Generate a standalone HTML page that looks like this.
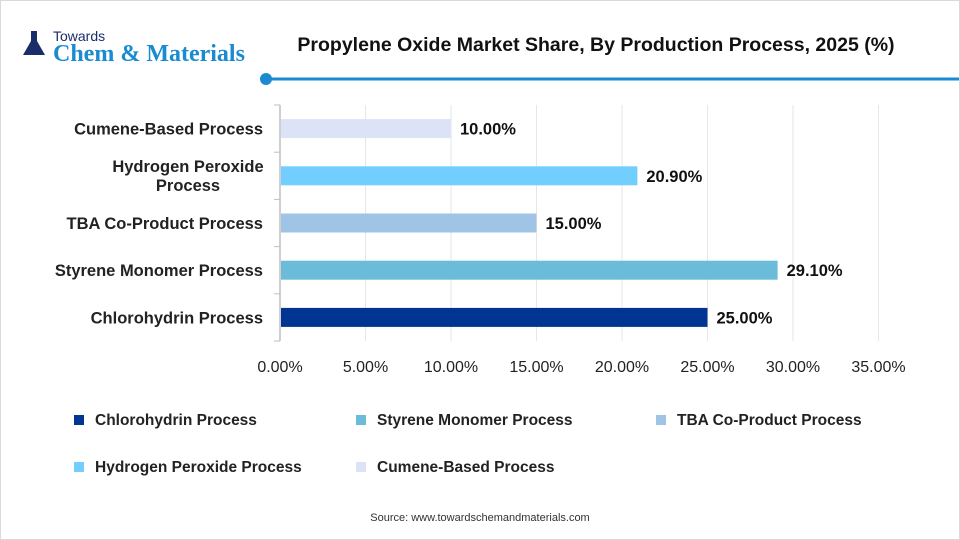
<!DOCTYPE html>
<html><head><meta charset="utf-8"><style>
body{margin:0;background:#fff;}
#c{position:relative;width:958px;height:538px;border:1px solid #d9d9d9;overflow:hidden;font-family:"Liberation Sans",sans-serif;}
</style></head><body>
<div id="c">
<svg width="958" height="538" font-family="Liberation Sans, sans-serif">
<g>
<path d="M30 30 h6 v10 l8 14 h-22 l8 -14z" fill="#1a2d6b"/>
<text x="52" y="40" font-size="14" fill="#1a2d6b">Towards</text>
<text x="52" y="60" font-size="24" style="font-family:'Liberation Serif',serif" font-weight="bold" fill="#1a8bd1">Chem &amp; Materials</text>
</g>
<text x="595" y="50" font-size="19.5" font-weight="bold" text-anchor="middle" fill="#111">Propylene Oxide Market Share, By Production Process, 2025 (%)</text>
<line x1="265" y1="78" x2="958" y2="78" stroke="#1a8bd1" stroke-width="3"/>
<circle cx="265" cy="78" r="6" fill="#1a8bd1"/>
<g id="plot"></g>
<text x="479" y="520" font-size="11" text-anchor="middle" fill="#333">Source: www.towardschemandmaterials.com</text>
</svg>
</div>
<script>
const categories=["Cumene-Based Process","Hydrogen Peroxide Process","TBA Co-Product Process","Styrene Monomer Process","Chlorohydrin Process"];
const values=[10.0,20.9,15.0,29.1,25.0];
const colors=["#dde3f7","#72ceff","#a0c4e6","#6bbcd9","#003591"];
const ticks=[0,5,10,15,20,25,30,35];
const legendOrder=["Chlorohydrin Process","Styrene Monomer Process","TBA Co-Product Process","Hydrogen Peroxide Process","Cumene-Based Process"];
const NS="http://www.w3.org/2000/svg";
const g=document.getElementById('plot');
const x0=279,pxPer=17.1,plotTop=104,rowH=47.2,barH=19;
const xs=v=>x0+v*pxPer;
const yc=i=>plotTop+rowH*(i+0.5);
function mk(t,a){const e=document.createElementNS(NS,t);for(const k in a)e.setAttribute(k,a[k]);g.appendChild(e);return e;}
ticks.forEach(t=>{
 if(t>0){const l=mk('line',{x1:xs(t),x2:xs(t),y1:plotTop,y2:plotTop+rowH*5,stroke:'#e6e6e6'});
 
 }
 const tx=mk('text',{x:xs(t),y:371,'font-size':16,'text-anchor':'middle',fill:'#222'});tx.textContent=t.toFixed(2)+'%';
 
 
});
const ax=mk('line',{x1:x0,x2:x0,y1:plotTop,y2:plotTop+rowH*5,stroke:'#bfbfbf','stroke-width':1.5});


for(let i=0;i<=5;i++){const tk=mk('line',{x1:x0-6,x2:x0,y1:plotTop+rowH*i,y2:plotTop+rowH*i,stroke:'#bfbfbf'});
 
 }
categories.forEach((c,i)=>{
 const r=mk('rect',{x:x0+1,y:yc(i)-barH/2,width:xs(values[i])-x0-1,height:barH,fill:colors[i]});
 
 
 const v=mk('text',{x:xs(values[i])+9,y:yc(i)+6,'font-size':16.5,'font-weight':'bold',fill:'#111'});v.textContent=values[i].toFixed(2)+'%';
 
 
 const lb=mk('text',{x:262,y:yc(i)+6,'font-size':16.5,'font-weight':'bold','text-anchor':'end',fill:'#222'});
 
 
 if(c==="Hydrogen Peroxide Process"){
  lb.setAttribute('y',yc(i)-4);
  const s1=document.createElementNS(NS,'tspan');s1.setAttribute('x',187);s1.setAttribute('text-anchor','middle');s1.textContent='Hydrogen Peroxide';lb.appendChild(s1);
  const s2=document.createElementNS(NS,'tspan');s2.setAttribute('x',187);s2.setAttribute('dy',19);s2.setAttribute('text-anchor','middle');s2.textContent='Process';lb.appendChild(s2);
 } else lb.textContent=c;
});
const lx=[73,355,655],ly=[419,466];
legendOrder.forEach((c,k)=>{
 const idx=categories.indexOf(c);
 const x=lx[k%3],y=ly[Math.floor(k/3)];
 const m=mk('rect',{x:x,y:y-5,width:10,height:10,fill:colors[idx]});
 
 
 const t=mk('text',{x:x+21,y:y+5,'font-size':15.5,'font-weight':'bold',fill:'#222'});t.textContent=c;
 
 
});
</script>
</body></html>
